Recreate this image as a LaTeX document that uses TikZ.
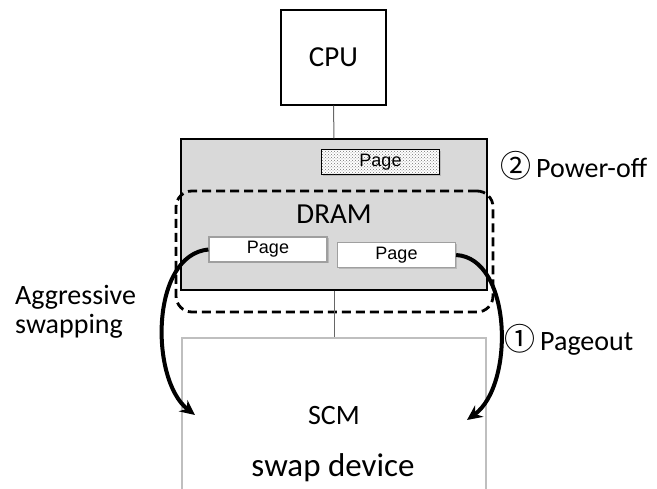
\documentclass[tikz,border=0pt]{standalone}
\usepackage{fontspec}
\setmainfont{Carlito}
\newfontfamily\arialf{Liberation Sans}
\newfontfamily\cjkf{Noto Sans CJK JP}
\newcommand\circfont{\cjkf\fontsize{31}{33}\selectfont}
\usetikzlibrary{arrows.meta,patterns,shadows}
\definecolor{dramgray}{HTML}{D9D9D9}
\definecolor{scmgray}{HTML}{BFBFBF}
\begin{document}
\begin{tikzpicture}[x=1pt,y=-1pt,
  box/.style={draw, line width=1.3pt, inner sep=0pt},
  pagebox/.style={draw=gray!75, line width=1.2pt, fill=white, inner sep=0pt,
    minimum width=118pt, minimum height=25pt,
    font=\arialf\fontsize{18}{20}\selectfont,
    drop shadow={shadow xshift=1.5pt, shadow yshift=-1.5pt, opacity=0.35, fill=gray}},
  lbl/.style={font=\fontsize{28}{30}\selectfont, inner sep=0pt, anchor=base west},
  big/.style={font=\fontsize{28}{30}\selectfont, inner sep=0pt, anchor=base},
  conn/.style={draw=gray!80!black, line width=1pt},
  flow/.style={line width=4pt, -{Stealth[length=15pt,width=14pt]}}]
\useasboundingbox (0,0) rectangle (657,489);
\clip (0,0) rectangle (657,489);
% CPU
\node[box, minimum width=105pt, minimum height=95pt, font=\fontsize{29}{30}\selectfont] (cpu) at (333.5,57.5) {CPU};
% DRAM
\node[box, fill=dramgray, minimum width=306pt, minimum height=151pt, font=\fontsize{29}{30}\selectfont] (dram) at (334,214.5) {DRAM};
% dashed group
\node[draw, rounded corners=16pt, line width=2.8pt, dash pattern=on 9pt off 5pt,
      minimum width=317pt, minimum height=121pt, inner sep=0pt] (grp) at (334.5,251.5) {};
% SCM
\node[draw=scmgray, line width=2pt, minimum width=304pt, minimum height=170pt, inner sep=0pt] (scm) at (334,423) {};
\node[big] (scmtxt) at (334,425) {SCM};
\node[big, font=\fontsize{33}{35}\selectfont] (swaptxt) at (333,477) {swap device};
% pages
\node[pagebox, draw=black, preaction={fill=white}, pattern=crosshatch dots, pattern color=gray!90!black] (ptop) at (380.5,162) {};
\node[inner sep=0pt, font=\arialf\fontsize{18}{20}\selectfont] (ptoptxt) at (ptop.center) {Page};
\node[pagebox] (pl) at (268,249.5) {Page};
\node[pagebox] (pr) at (396.5,255) {Page};
% connectors
\draw[conn] (cpu.south) -- (dram.north);
\draw[conn] (dram.south) -- (scm.north);
% arrows
\coordinate (al) at (195,415);
\coordinate (ar) at (467,420);
\draw[flow] (pl.west) .. controls (150,255) and (150,380) .. (al);
\draw[flow] (pr.east) .. controls (512,258) and (515,385) .. (ar);
% labels
\node[lbl] (poff) at (500,178) {{\circfont ②}\hspace{5pt}Power-off};
\node[lbl] (pout) at (504,351) {{\circfont ①}\hspace{5pt}Pageout};
\node[lbl] (agg1) at (15,305) {Aggressive};
\node[lbl] (agg2) at (15,334) {swapping};
\end{tikzpicture}
\end{document}
